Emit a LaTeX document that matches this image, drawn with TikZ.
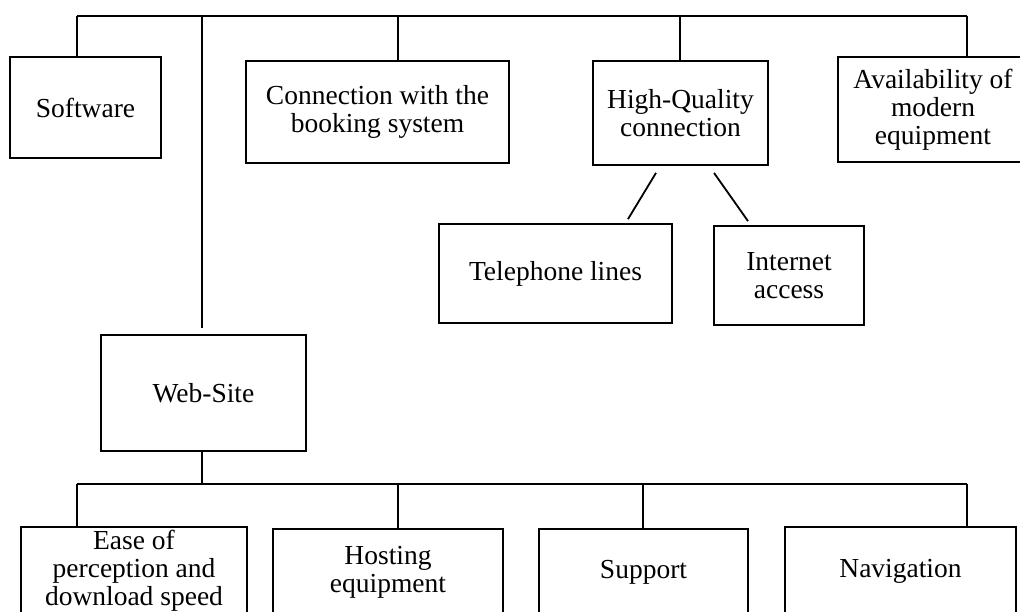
\documentclass[tikz,border=0pt]{standalone}
\usepackage{fontspec}
\setmainfont{Liberation Serif}
\begin{document}
\begin{tikzpicture}[x=1pt,y=-1pt,line width=1.8pt,
	box/.style={draw,align=center,inner sep=2pt,font=\fontsize{27.5}{28}\selectfont}]
	\useasboundingbox (0,0) rectangle (1020,611);
	\clip (0,0) rectangle (1020,611);

	\node[box,minimum width=151,minimum height=101] at (85.5,107.5) (soft) {Software};
	\node[box,minimum width=263,minimum height=102] at (377.5,112) (conn) {Connection with the\\booking system};
	\node[box,minimum width=175,minimum height=104] at (680.5,113) (hq) {High-Quality\\connection};
	\node[box,minimum width=190,minimum height=105] at (933,109.5) (avail) {Availability of\\modern\\equipment};
	\node[box,minimum width=233,minimum height=99] at (555.5,273.5) (tel) {Telephone lines};
	\node[box,minimum width=150,minimum height=99] at (789,275.5) (inet) {Internet\\access};
	\node[box,minimum width=205,minimum height=116] at (203.5,393) (web) {Web-Site};
	\node[box,minimum width=226,minimum height=88] at (134,571) (ease) {Ease of\\perception and\\download speed};
	\node[box,minimum width=230,minimum height=86] at (388,572) (host) {Hosting\\equipment};
	\node[box,minimum width=209,minimum height=86] at (643.5,572) (supp) {Support};
	\node[box,minimum width=231,minimum height=88] at (900.5,571) (nav) {Navigation};

	\foreach \x/\n in {77/soft,398/conn,680/hq,967/avail}{
		\coordinate (t\n) at (\x,16);
		\draw (t\n) -- (t\n |- \n.north);
	}
	\draw (tsoft) -- (tavail);
	\coordinate (tweb) at (202,16);
	\draw[shorten >=6pt] (tweb) -- (tweb |- web.north);

	\draw ([xshift=-24.5pt,yshift=-7pt]hq.south) -- ([xshift=72.5pt,yshift=4pt]tel.north);
	\draw ([xshift=33.5pt,yshift=-7pt]hq.south) -- ([xshift=-41pt,yshift=4pt]inet.north);

	\foreach \x/\n in {77/ease,398/host,643/supp,967/nav}{
		\coordinate (b\n) at (\x,484);
		\draw (b\n) -- (b\n |- \n.north);
	}
	\draw (bease) -- (bnav);
	\coordinate (bweb) at (202,484);
	\draw (bweb |- web.south) -- (bweb);
\end{tikzpicture}
\end{document}
